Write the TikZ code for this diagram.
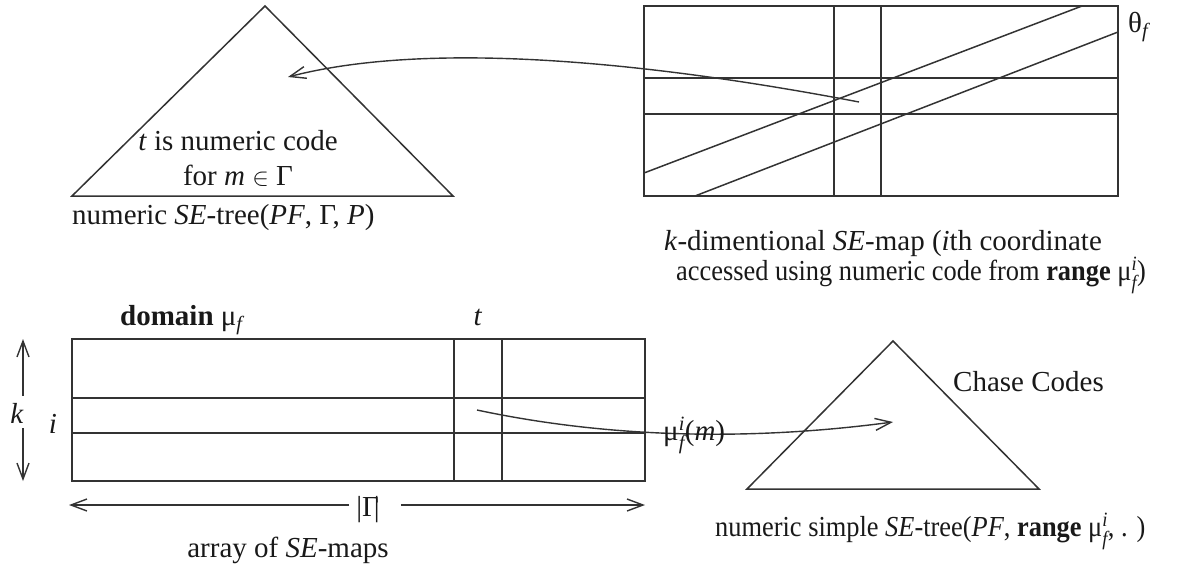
\documentclass[tikz,border=0pt]{standalone}
\usepackage{amsmath}
\usepackage{graphicx}
\usepackage{fontspec}
\setmainfont{Liberation Serif}
\usetikzlibrary{arrows.meta}
\newcommand{\muf}{μ$_{\textit{f}}$}
\newcommand{\mufi}{μ$_{\textit{f}}^{\textit{i}}$}
\begin{document}
\begin{tikzpicture}[x=1pt,y=-1pt,
  shp/.style={draw=black!80, line width=1.5pt},
  lbl/.style={inner sep=0pt, text=black!90, font=\fontsize{29}{33}\selectfont},
  arr/.style={draw=black!80, line width=1.4pt, -{Straight Barb[length=16pt,width=12pt]}}]
\useasboundingbox (0,0) rectangle (1185,571);

% ---------- top-left tree
\draw[shp] (265,6) -- (453,196) -- (72,196) -- cycle;
\node[lbl, anchor=base] (tl1) at (238,150) {\textit{t} is numeric code};
\node[lbl, anchor=base] (tl2) at (238,185) {for \textit{m} $\in$ Γ};
\node[lbl, anchor=base west] (cap1) at (72,224) {numeric \textit{SE}-tree(\textit{PF}, Γ, \textit{P})};

% ---------- top-right k-dimensional map
\draw[shp] (644,6) rectangle (1118,196);
\draw[shp] (834,6) -- (834,196);
\draw[shp] (881,6) -- (881,196);
\draw[shp] (644,78) -- (1118,78);
\draw[shp] (644,114) -- (1118,114);
\draw[shp] (644,173) -- (1082,6);
\draw[shp] (695,196) -- (1118,32);
\node[lbl, anchor=base west] (theta) at (1128,32) {θ$_{\textit{f}}$};
\node[lbl, anchor=base west] (cap2a) at (664,250) {\textit{k}-dimentional \textit{SE}-map (\textit{i}th coordinate};
\node[lbl, anchor=base west] (cap2b) at (676,280) {\scalebox{0.91}[1]{accessed using numeric code from \textbf{range} \mufi)}};

\coordinate (mappt) at (859,102);
\coordinate (treept) at (288,77);
\draw[arr] (mappt) .. controls (650,62) and (430,40) .. (treept);

% ---------- bottom-left array of maps
\draw[shp] (72,339) rectangle (645,481);
\draw[shp] (72,398) -- (645,398);
\draw[shp] (72,433) -- (645,433);
\draw[shp] (454,339) -- (454,481);
\draw[shp] (502,339) -- (502,481);
\node[lbl, anchor=base west] (dom) at (120,325) {\textbf{domain} \muf};
\node[lbl, anchor=base] (tlab) at (478,325) {\textit{t}};
\node[lbl, anchor=base] (klab) at (17,423) {\textit{k}};
\node[lbl, anchor=base] (ilab) at (53,433) {\textit{i}};
\coordinate (ktop) at (23,339);
\coordinate (kbot) at (23,481);
\draw[arr] ([yshift=7pt]klab.north -| ktop) -- (ktop);
\draw[arr] ([yshift=-5pt]klab.south -| kbot) -- (kbot);
\node[lbl, anchor=base] (glab) at (368,516) {|Γ\kern-0.17em|};
\coordinate (gleft) at (69,505);
\coordinate (gright) at (645,505);
\draw[arr] ([xshift=-7pt]glab.west |- gleft) -- (gleft);
\draw[arr] ([xshift=21pt]glab.east |- gright) -- (gright);
\node[lbl, anchor=base] (cap3) at (288,557) {array of \textit{SE}-maps};

% ---------- bottom-right simple tree
\draw[shp] (893,341) -- (1039,489) -- (747,489) -- cycle;
\node[lbl, anchor=base west] (chase) at (953,391) {Chase Codes};
\node[lbl, anchor=base west] (cap4) at (715,536) {\scalebox{0.91}[1]{numeric simple \textit{SE}-tree(\textit{PF}, \textbf{range} \mufi, . )}};
\coordinate (arrpt) at (477,410);
\coordinate (simpt) at (893,422);
\draw[arr] (arrpt) .. controls (580,432) and (720,445) .. (simpt);
\node[lbl, anchor=base west] (mulab) at (663,440) {\mufi(\textit{m})};
\end{tikzpicture}
\end{document}
